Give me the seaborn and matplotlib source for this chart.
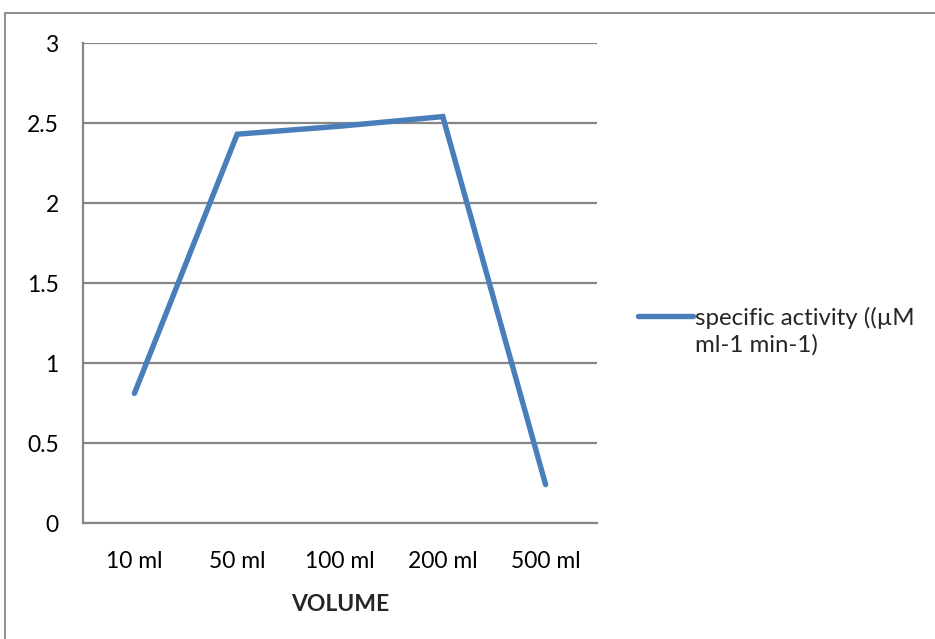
import matplotlib
matplotlib.use("Agg")
import matplotlib.pyplot as plt
from matplotlib.patches import Rectangle
import pandas as pd
import seaborn as sns

volumes = ["10 ml", "50 ml", "100 ml", "200 ml", "500 ml"]
specific_activity = [0.81, 2.43, 2.48, 2.54, 0.24]
yticks = [0, 0.5, 1, 1.5, 2, 2.5, 3]
ytick_labels = ["0", "0.5", "1", "1.5", "2", "2.5", "3"]
series_label = "specific activity ((\u00b5M\nml-1 min-1)"

sns.set_style("white")
plt.rcParams["font.family"] = ["Lato", "DejaVu Sans"]

df = pd.DataFrame({"volume": volumes, "activity": specific_activity})

fig = plt.figure(figsize=(9.35, 6.39), dpi=100)
ax = fig.add_axes([83 / 935, 1 - 523 / 639, (597 - 83) / 935, (523 - 43) / 639])

grey = "#868686"
blue = "#4A7EBB"
fs = 16.5

sns.lineplot(data=df, x="volume", y="activity", sort=False, ax=ax,
             color=blue, linewidth=3.9, label=series_label,
             solid_capstyle="round", solid_joinstyle="miter")

ax.set_xlim(-0.5, 4.5)
ax.set_ylim(0, 3)
ax.set_yticks(yticks)
ax.set_yticklabels(ytick_labels)
ax.yaxis.grid(True, color=grey, linewidth=1.6)
ax.xaxis.grid(False)
ax.set_axisbelow(True)

for side in ["top", "right"]:
    ax.spines[side].set_visible(False)
for side in ["left", "bottom"]:
    ax.spines[side].set_color(grey)
    ax.spines[side].set_linewidth(1.6)

ax.tick_params(axis="y", direction="out", length=5.5, width=1.6, color=grey,
               labelsize=fs, pad=12, labelcolor="black")
ax.tick_params(axis="x", length=0, labelsize=fs, pad=20, labelcolor="black")

ax.set_ylabel("")
ax.set_xlabel("VOLUME", fontsize=fs, fontweight="bold", labelpad=16)

leg = ax.legend(loc="center left", bbox_to_anchor=(1.062, 0.40), frameon=False,
                fontsize=17.3, handlelength=2.25, handletextpad=0.1,
                borderaxespad=0)
for t in leg.get_texts():
    t.set_linespacing(1.3)
# line up the legend key with the first line of its label
for h in leg.legend_handles:
    h.set_linewidth(3.9)
    y = h.get_ydata()
    h.set_ydata([v + 11 for v in y])

# chart-area border
fig.patches.append(Rectangle((5 / 935, -0.05), 1.2, 0.05 + (639 - 13) / 639,
                             transform=fig.transFigure, fill=False,
                             edgecolor=grey, linewidth=1.3))

fig.savefig("out.png", dpi=100)
